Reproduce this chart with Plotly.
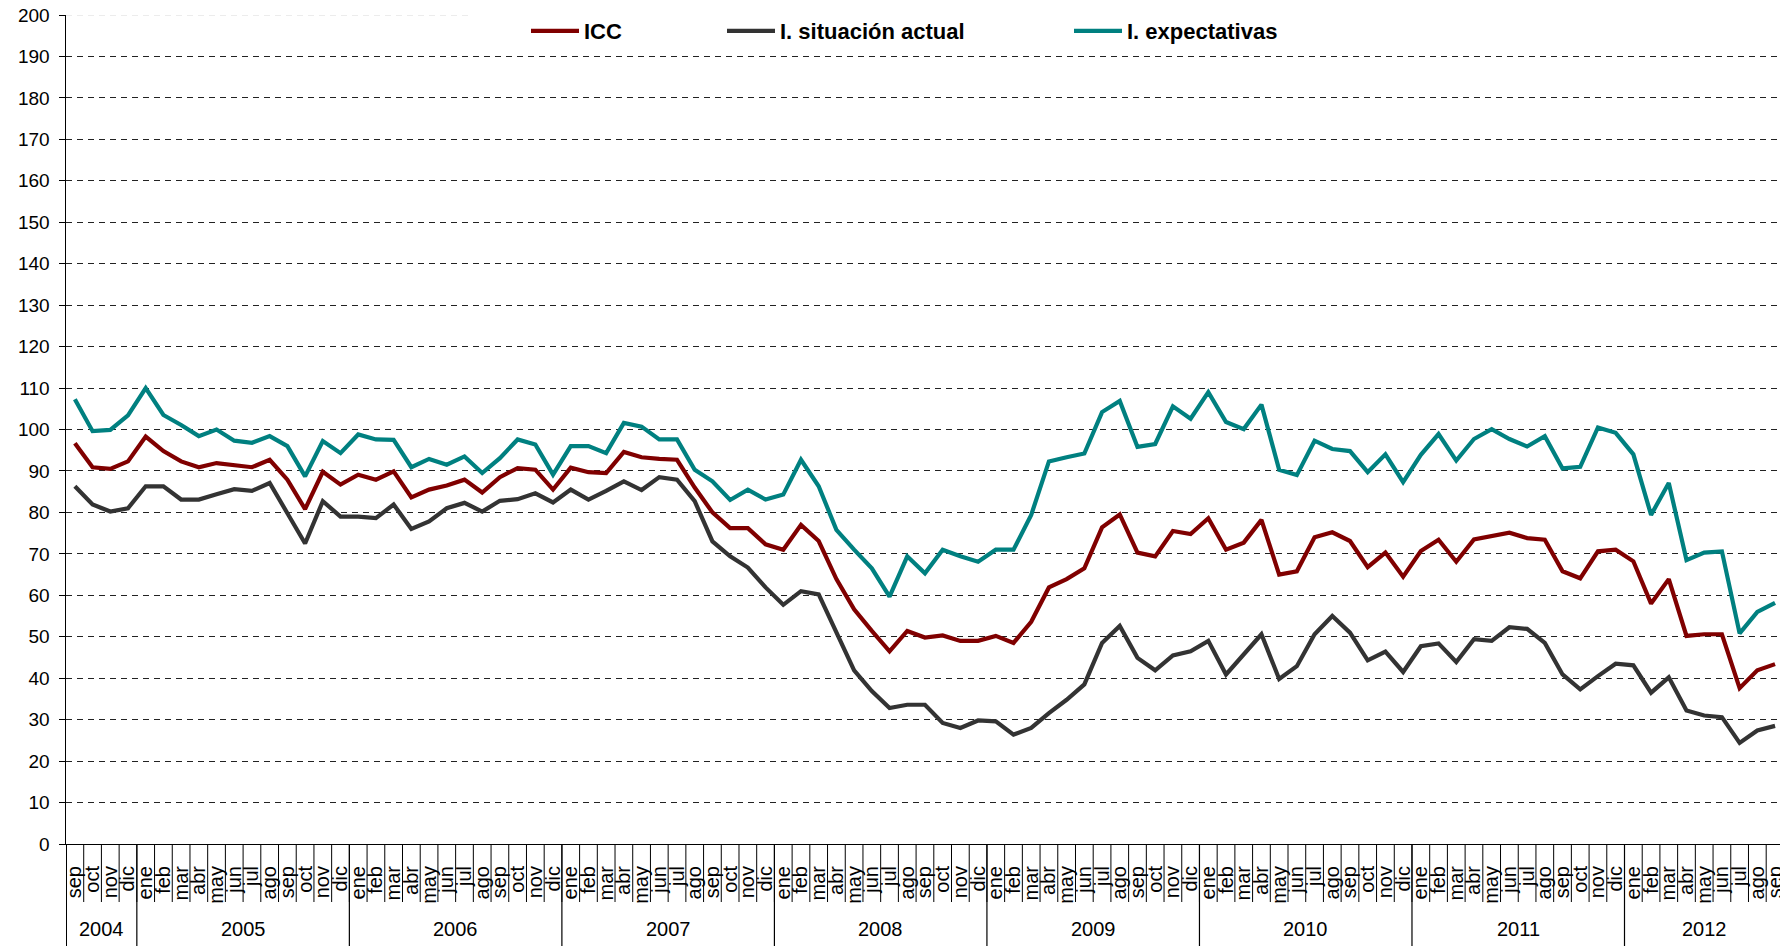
import plotly.graph_objects as go

# ---------------- data ----------------
years = ["2004", "2005", "2006", "2007", "2008", "2009", "2010", "2011", "2012"]
month_names = ["ene", "feb", "mar", "abr", "may", "jun", "jul", "ago", "sep", "oct", "nov", "dic"]
first_month = {"2004": 8}      # series starts in sep 2004
last_month = {"2012": 8}       # series ends in sep 2012

icc = [96.7, 90.9, 90.5, 92.3,
       98.3, 94.8, 92.3, 90.9, 91.9, 91.3, 90.9, 92.7, 87.9, 80.8, 89.8, 86.7,
       89.1, 87.9, 89.9, 83.6, 85.5, 86.5, 87.9, 84.8, 88.5, 90.7, 90.3, 85.5,
       90.8, 89.7, 89.5, 94.6, 93.3, 92.9, 92.7, 86.0, 80.0, 76.2, 76.2, 72.3,
       71.0, 77.0, 73.1, 63.9, 56.6, 51.4, 46.5, 51.4, 49.8, 50.3, 49.0, 49.0,
       50.2, 48.5, 53.6, 61.9, 63.9, 66.5, 76.4, 79.5, 70.3, 69.4, 75.5, 74.8,
       78.6, 71.0, 72.7, 78.2, 65.0, 65.8, 74.0, 75.2, 73.1, 66.8, 70.3, 64.5,
       70.7, 73.4, 68.1, 73.5, 74.4, 75.1, 73.8, 73.4, 65.8, 64.1, 70.6, 71.0,
       68.2, 58.0, 63.9, 50.2, 50.6, 50.6, 37.6, 41.9, 43.4]

situacion = [86.3, 81.9, 80.2, 81.0,
             86.3, 86.3, 83.1, 83.1, 84.4, 85.6, 85.2, 87.1, 79.8, 72.5, 82.7, 79.0,
             79.0, 78.6, 81.9, 76.0, 77.8, 81.0, 82.3, 80.2, 82.8, 83.2, 84.6, 82.4,
             85.5, 83.1, 85.2, 87.5, 85.4, 88.5, 87.9, 82.7, 73.0, 69.4, 66.7, 61.9,
             57.7, 61.0, 60.2, 51.0, 41.9, 36.9, 32.8, 33.6, 33.6, 29.2, 28.0, 29.8,
             29.6, 26.4, 28.0, 31.6, 34.8, 38.5, 48.5, 52.6, 44.9, 41.9, 45.5, 46.5,
             49.0, 40.9, 45.7, 50.6, 39.8, 42.9, 50.6, 55.0, 51.0, 44.3, 46.4, 41.5,
             47.7, 48.4, 43.9, 49.4, 49.0, 52.3, 51.9, 48.5, 40.9, 37.3, 40.5, 43.5,
             43.1, 36.5, 40.2, 32.2, 31.0, 30.6, 24.4, 27.4, 28.5]

expectativas = [107.3, 99.6, 99.9, 103.4,
                110.0, 103.5, 101.1, 98.4, 100.0, 97.3, 96.8, 98.4, 96.0, 88.7, 97.2, 94.3,
                98.8, 97.6, 97.5, 90.9, 92.9, 91.5, 93.5, 89.5, 93.1, 97.6, 96.4, 89.1,
                96.0, 96.0, 94.3, 101.6, 100.7, 97.6, 97.6, 90.3, 87.5, 83.0, 85.5, 83.1,
                84.3, 92.7, 86.3, 75.8, 71.0, 66.5, 59.7, 69.4, 65.3, 71.0, 69.4, 68.1,
                71.0, 71.0, 79.4, 92.3, 93.3, 94.2, 104.2, 106.9, 95.8, 96.5, 105.6, 102.6,
                109.0, 101.8, 100.1, 106.0, 90.3, 89.0, 97.3, 95.3, 94.8, 89.7, 94.0, 87.3,
                93.9, 98.9, 92.5, 97.7, 100.1, 97.7, 95.9, 98.4, 90.6, 91.0, 100.5, 99.2,
                94.0, 79.4, 87.1, 68.5, 70.3, 70.6, 50.8, 56.0, 58.2]

series_names = ["ICC", "I. situación actual", "I. expectativas"]
series_colors = ["#800000", "#333333", "#008080"]
y_ticks = list(range(0, 201, 10))

# ------------- derived category structure -------------
month_labels = []
year_start = []
year_count = []
for yr in years:
    a = first_month.get(yr, 0)
    b = last_month.get(yr, 11)
    year_start.append(len(month_labels))
    year_count.append(b - a + 1)
    month_labels += month_names[a:b + 1]
n = len(month_labels)
idx = list(range(n))
month_bounds = [i - 0.5 for i in range(n + 1)]
year_bounds = [s - 0.5 for s in year_start]
year_centers = [s + (c - 1) / 2 for s, c in zip(year_start, year_count)]

FONT = "Liberation Sans, Arial, sans-serif"
W, H = 1780, 946
ML, MR, MT, MB = 66, 0, 15, 102
PH = H - MT - MB          # plot height in px
X_END = n - 0.72          # the last month is partly cut by the right edge

fig = go.Figure()
for name, vals, col, lg in zip(series_names, [icc, situacion, expectativas], series_colors,
                               ["legend", "legend2", "legend3"]):
    fig.add_trace(go.Scatter(x=idx, y=vals, mode="lines", name=name, legend=lg,
                             line=dict(color=col, width=4.2), hoverinfo="skip", cliponaxis=True))

leg_common = dict(xref="container", yref="container", xanchor="left", yanchor="middle",
                  orientation="h", bgcolor="rgba(0,0,0,0)", itemwidth=48,
                  font=dict(family=FONT, size=22, color="#000", weight="bold"),
                  itemclick=False, itemdoubleclick=False)
leg_y = 1 - 31 / H
TXT_OFF = 58

shapes = [
    dict(type="line", xref="paper", yref="y", x0=0, x1=1, y0=200, y1=200,
         line=dict(color="white", width=2), layer="between"),
    dict(type="line", xref="paper", yref="y", x0=0, x1=(470 - ML) / (W - ML), y0=200, y1=200,
         line=dict(color="#d9d9d9", width=1, dash="6px,5px"), layer="between"),
]
for b in month_bounds:
    shapes.append(dict(type="line", xref="x", yref="paper", x0=b, x1=b, y0=0, y1=-58 / PH,
                       line=dict(color="#000", width=1), layer="above"))
for b in year_bounds:
    shapes.append(dict(type="line", xref="x", yref="paper", x0=b, x1=b, y0=0, y1=-MB / PH,
                       line=dict(color="#000", width=2 if b < 0 else 1.2), layer="above"))

annotations = [dict(x=c, y=-85 / PH, xref="x", yref="paper", text=yr, showarrow=False,
                    xanchor="center", yanchor="middle", font=dict(family=FONT, size=20, color="#000"))
               for c, yr in zip(year_centers, years)]

fig.update_layout(
    width=W, height=H,
    margin=dict(l=ML, r=MR, t=MT, b=MB, pad=0, autoexpand=False),
    paper_bgcolor="white", plot_bgcolor="white",
    font=dict(family=FONT, size=19, color="#000"),
    xaxis=dict(range=[-0.5, X_END], type="linear", tickmode="array", tickvals=idx,
               ticktext=month_labels, ticks="", tickangle=-90, tickfont=dict(size=20),
               ticklabelstandoff=13, ticklabeloverflow="allow",
               showline=True, linecolor="#000", linewidth=1,
               showgrid=False, zeroline=False, fixedrange=True, automargin=False),
    yaxis=dict(range=[0, 200], tickmode="array", tickvals=y_ticks, ticks="outside", ticklen=6,
               tickcolor="#000", tickwidth=1, ticklabelstandoff=5, tickfont=dict(size=19),
               showline=True, linecolor="#000", linewidth=1.5, automargin=False,
               showgrid=True, gridcolor="#222", gridwidth=1, griddash="6px,5px",
               zeroline=False, fixedrange=True),
    legend=dict(**leg_common, x=(584 - TXT_OFF) / W, y=leg_y),
    legend2=dict(**leg_common, x=(780 - TXT_OFF) / W, y=leg_y),
    legend3=dict(**leg_common, x=(1127 - TXT_OFF) / W, y=leg_y),
    shapes=shapes,
    annotations=annotations,
    showlegend=True,
)

fig.write_html("out.html", config={"displayModeBar": False, "staticPlot": True},
               post_script="document.body.style.margin='0';document.body.style.padding='0';"
                           "document.body.style.overflow='hidden';")
